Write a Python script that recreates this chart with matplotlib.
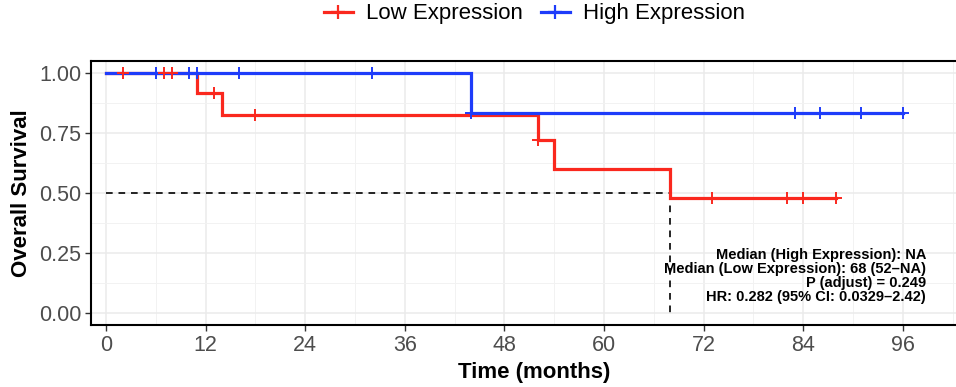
import numpy as np
import matplotlib
matplotlib.use("Agg")
import matplotlib.pyplot as plt
from matplotlib.lines import Line2D
from matplotlib.ticker import MultipleLocator

plt.rcParams['font.family'] = ['Liberation Sans', 'DejaVu Sans']

# Kaplan-Meier step data (months, survival probability)
low_times = [0, 11, 14, 52, 54, 68, 88]
low_surv = [1.0, 0.917, 0.825, 0.722, 0.602, 0.481, 0.481]
low_censor = [2, 7, 8, 13, 18, 52, 73, 82, 84, 88]

high_times = [0, 44, 96]
high_surv = [1.0, 0.833, 0.833]
high_censor = [6, 10, 11, 16, 32, 44, 83, 86, 91, 96]

median_low = 68
group_labels = ["Low Expression", "High Expression"]
stats_lines = [
    "Median (High Expression): NA",
    "Median (Low Expression): 68 (52\u2013NA)",
    "P (adjust) = 0.249",
    "HR: 0.282 (95% CI: 0.0329\u20132.42)",
]
x_ticks = [0, 12, 24, 36, 48, 60, 72, 84, 96]
y_ticks = [0.0, 0.25, 0.5, 0.75, 1.0]

RED = "#FA281E"
BLUE = "#1E3CFA"


def surv_at(times, surv, t):
    idx = np.searchsorted(times, t, side="right") - 1
    return np.asarray(surv)[idx]


fig = plt.figure(figsize=(9.56, 3.87), dpi=100)
ax = fig.add_axes([0.0952, 0.1594, 0.9273, 0.6822])

# grid
ax.set_xlim(-1.8, 105)
ax.set_ylim(-0.05, 1.05)
ax.xaxis.set_major_locator(MultipleLocator(12))
ax.xaxis.set_minor_locator(MultipleLocator(6))
ax.yaxis.set_major_locator(MultipleLocator(0.25))
ax.yaxis.set_minor_locator(MultipleLocator(0.125))
ax.grid(which="major", color="#EBEBEB", lw=1.1, zorder=0)
ax.grid(which="minor", color="#F2F2F2", lw=0.7, zorder=0)
ax.set_axisbelow(True)

# median reference lines
ax.plot([0, median_low], [0.5, 0.5], color="black", lw=1.2,
        dashes=(4, 3.5), zorder=2)
ax.plot([median_low, median_low], [0.5, 0.0], color="black", lw=1.2,
        dashes=(4, 3.5), zorder=2)

# survival curves
ax.step(low_times, low_surv, where="post", color=RED, lw=2.3, zorder=3,
        solid_joinstyle="miter")
ax.step(high_times, high_surv, where="post", color=BLUE, lw=2.3, zorder=4,
        solid_joinstyle="miter")

# censoring marks
ax.plot(high_censor, surv_at(high_times, high_surv, high_censor), ls="none",
        marker="+", ms=8, mew=1.4, color=BLUE, zorder=5)
ax.plot(low_censor, surv_at(low_times, low_surv, low_censor), ls="none",
        marker="+", ms=8, mew=1.4, color=RED, zorder=6)

# statistics annotation
for i, line in enumerate(stats_lines):
    ax.text(98.8, 0.245 - i * 0.059, line, ha="right", va="center",
            fontsize=10.5, fontweight="bold", color="black", zorder=7)

ax.set_xticks(x_ticks)
ax.set_yticks(y_ticks)
ax.set_xticklabels([str(v) for v in x_ticks])
ax.set_yticklabels([f"{v:.2f}" for v in y_ticks])
ax.tick_params(which="major", length=4, width=1, color="#333333",
               labelsize=15.5, labelcolor="#4D4D4D", pad=3)
ax.tick_params(which="minor", length=0)

for s in ax.spines.values():
    s.set_color("black")
    s.set_linewidth(1.5)

ax.set_xlabel("Time (months)", fontsize=16, fontweight="bold", labelpad=4)
ax.set_ylabel("Overall Survival", fontsize=16, fontweight="bold", labelpad=5)

handles = [
    Line2D([], [], color=RED, lw=2.3, marker="+", ms=10, mew=1.6),
    Line2D([], [], color=BLUE, lw=2.3, marker="+", ms=10, mew=1.6),
]
fig.legend(handles, group_labels, loc="center", bbox_to_anchor=(0.559, 0.964),
           ncol=2, frameon=False, fontsize=16, handlelength=1.3,
           handletextpad=0.6, columnspacing=0.8)

fig.savefig("out.png", dpi=100)
